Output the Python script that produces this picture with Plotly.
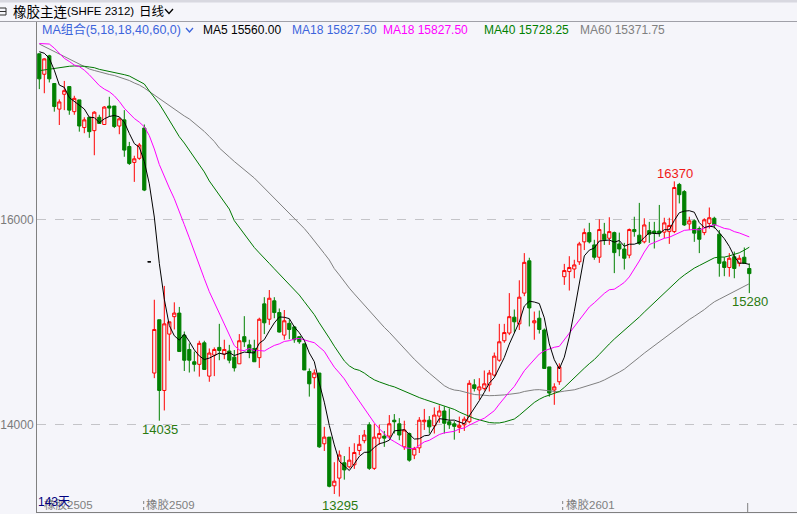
import plotly.graph_objects as go

# ---------------- data ----------------
opens = [17615, 17415, 17595, 17325, 17075, 17220, 17295, 17050, 17165, 16895,
         16995, 16865, 16995, 16925, 17105, 17105, 16910, 16970, 16710, 16555,
         16595, 16890, 15585, 14500, 15020, 14330, 14880, 15050, 15085, 14870,
         14730, 14610, 14585, 14795, 14470, 14675, 14750, 14685, 14715, 14655,
         14590, 14855, 14775, 14740, 14650, 15175, 15025, 15205, 15090, 14870,
         14985, 14950, 14855, 14785, 14515, 14455, 14500, 13810, 13875, 13400,
         13475, 13625, 13585, 13605, 13745, 13840, 13995, 13570, 13865, 13885,
         13885, 14040, 14005, 13780, 13910, 13700, 13770, 14025, 14040, 13985,
         14080, 14130, 14025, 14005, 13970, 13995, 14025, 14385, 14335, 14350,
         14385, 14480, 14625, 14815, 14890, 15045, 14980, 15280, 15595, 14990,
         15035, 14920, 14560, 14335, 14415, 15440, 15490, 15515, 15585, 15780,
         15870, 15750, 15630, 15855, 15815, 15870, 15760, 15710, 15650, 15900,
         15845, 15780, 15890, 15885, 15885, 15875, 15880, 15880, 16340, 16270,
         15955, 15985, 15910, 15870, 15960, 16010, 15855, 15585, 15530, 15635,
         15570, 15630, 15520]
highs = [17615, 17570, 17605, 17325, 17170, 17350, 17295, 17205, 17165, 16995,
         16995, 17055, 17020, 17105, 17195, 17105, 16995, 17065, 16755, 16620,
         16745, 16925, 15585, 15215, 15020, 15350, 15000, 15190, 15145, 14905,
         14790, 14710, 14815, 14815, 14740, 14750, 14980, 14825, 14775, 14725,
         14880, 15055, 14825, 14825, 15040, 15240, 15310, 15240, 15130, 15115,
         15025, 14960, 14855, 14785, 14545, 14535, 14500, 13975, 13875, 13630,
         13745, 13690, 13780, 13815, 13895, 13945, 14020, 14005, 13995, 13935,
         14090, 14100, 14060, 14035, 13920, 13780, 14070, 14150, 14080, 14165,
         14185, 14175, 14155, 14030, 14075, 14075, 14430, 14440, 14450, 14525,
         14530, 14700, 14980, 14980, 15280, 15120, 15405, 15670, 15625, 15100,
         15110, 14935, 14560, 14400, 14595, 15565, 15640, 15605, 15780, 15910,
         15965, 15800, 16000, 15965, 16020, 15880, 15870, 15770, 15910, 16025,
         16160, 16010, 15975, 15975, 16140, 16015, 16015, 16370, 16355, 16285,
         16025, 16000, 15930, 16010, 16115, 16025, 15895, 15630, 15670, 15685,
         15650, 15725, 15570]
lows = [17270, 17230, 17335, 17050, 16920, 17065, 17020, 17020, 16855, 16840,
        16795, 16625, 16935, 16925, 17000, 16890, 16830, 16610, 16530, 16365,
        16580, 16275, 15585, 14450, 14035, 14135, 14620, 14925, 14710, 14520,
        14505, 14515, 14465, 14530, 14415, 14470, 14625, 14635, 14595, 14515,
        14590, 14755, 14645, 14610, 14550, 14880, 14970, 15035, 14895, 14825,
        14830, 14795, 14785, 14530, 14270, 14350, 13770, 13740, 13385, 13320,
        13295, 13460, 13570, 13565, 13700, 13815, 13555, 13555, 13800, 13780,
        13865, 13910, 13845, 13750, 13635, 13660, 13720, 13945, 13910, 13910,
        14015, 13910, 13955, 13850, 13915, 13935, 14010, 14320, 14240, 14330,
        14320, 14465, 14610, 14795, 14870, 14895, 14920, 15250, 14955, 14825,
        14885, 14545, 14270, 14190, 14385, 15360, 15305, 15425, 15555, 15700,
        15765, 15605, 15575, 15750, 15750, 15475, 15640, 15510, 15620, 15830,
        15750, 15765, 15770, 15715, 15830, 15815, 15760, 15865, 16155, 15935,
        15895, 15780, 15670, 15845, 15910, 15910, 15440, 15445, 15440, 15425,
        15540, 15570, 15280]
closes = [17370, 17565, 17370, 17100, 17145, 17255, 17065, 17180, 16910, 16970,
          16855, 17045, 16935, 17095, 17085, 16905, 16980, 16675, 16545, 16590,
          16725, 16285, 15585, 14925, 14330, 14980, 15000, 15085, 14710, 14625,
          14625, 14585, 14790, 14535, 14695, 14730, 14720, 14730, 14625, 14550,
          14815, 14805, 14700, 14610, 15025, 14990, 15230, 15090, 14900, 15010,
          14925, 14825, 14805, 14530, 14395, 14500, 13780, 13875, 13395, 13445,
          13700, 13555, 13650, 13725, 13805, 13895, 13570, 13875, 13910, 13865,
          14005, 14025, 13895, 13945, 13650, 13765, 14040, 14040, 13975, 14090,
          14130, 14010, 13995, 13980, 13990, 14050, 14400, 14350, 14365, 14395,
          14500, 14665, 14805, 14895, 15050, 15000, 15240, 15580, 15135, 15010,
          14925, 14545, 14305, 14365, 14560, 15500, 15530, 15555, 15760, 15870,
          15780, 15630, 15900, 15800, 15880, 15675, 15710, 15620, 15900, 15880,
          15765, 15945, 15855, 15865, 15865, 15965, 15940, 16310, 16240, 15945,
          15985, 15865, 15805, 15995, 16015, 15945, 15570, 15530, 15620, 15520,
          15620, 15570, 15470]

# moving-average values of the first candles (their windows reach before the chart)
ma5_head = [17635, 17620, 17570, 17455]
ma18_head = [17715, 17715, 17710, 17670, 17620, 17570, 17540, 17505, 17490, 17455,
             17410, 17360, 17305, 17270, 17245, 17205, 17150]
ma40_head = [17450, 17457, 17466, 17476, 17483, 17489, 17493, 17496, 17498, 17493,
             17486, 17479, 17463, 17454, 17444, 17434, 17424, 17411, 17398, 17374,
             17342, 17320, 17252, 17193, 17125, 17047, 16969, 16891, 16806, 16744,
             16676, 16608, 16540, 16462, 16374, 16305, 16237, 16179, 16100]
ma60_head = [17710, 17686, 17666, 17642, 17618, 17593, 17569, 17544, 17515, 17491,
             17466, 17452, 17437, 17427, 17413, 17403, 17388, 17374, 17354, 17330,
             17310, 17281, 17247, 17213, 17174, 17140, 17105, 17076, 17042, 17008,
             16979, 16940, 16901, 16857, 16808, 16759, 16696, 16647, 16608, 16564,
             16525, 16486, 16447, 16403, 16354, 16305, 16252, 16203, 16154, 16105,
             16062, 16013, 15964, 15910, 15852, 15793, 15730, 15666, 15603]

ytick_vals = [14000, 16000]
legend_items = [("MA5 15560.00", "#000000"), ("MA18 15827.50", "#3C64DC"),
                ("MA18 15827.50", "#FF00FF"), ("MA40 15728.25", "#008000"),
                ("MA60 15371.75", "#808080")]
contracts = ["橡胶2505", "橡胶2509", "橡胶2601"]
peak_labels = [("16370", 127, 16370), ("15280", 142, 15280), ("14035", 24, 14035), ("13295", 60, 13295)]

# ---------------- layout constants ----------------
W, H = 797, 514
ML, MR, MT, MB = 37, 0, 22, 2
PW, PH = W - ML - MR, H - MT - MB
BG = "#F5F5FA"
RED = "#FF0000"
GREEN = "#008000"
FONT = "Tahoma, 'Liberation Sans', Arial, 'Noto Sans CJK SC', sans-serif"
CJK = "'Noto Sans CJK SC', 'Liberation Sans', sans-serif"

def px(x):
    return (x - ML) / PW

def py(y):
    return (H - MB - y) / PH

def ma(window, head):
    out = list(head)
    for i in range(len(head), len(closes)):
        seg = closes[i - window + 1:i + 1]
        out.append(sum(seg) / window)
    return out

idx = list(range(len(closes)))
flat = [i for i in idx if opens[i] == closes[i] == highs[i] == lows[i]]
norm = [i for i in idx if i not in flat]

fig = go.Figure()
fig.add_trace(go.Candlestick(
    x=norm, open=[opens[i] for i in norm], high=[highs[i] for i in norm],
    low=[lows[i] for i in norm], close=[closes[i] for i in norm],
    increasing=dict(line=dict(color=RED, width=1), fillcolor=BG),
    decreasing=dict(line=dict(color=GREEN, width=1), fillcolor=GREEN),
    whiskerwidth=0, hoverinfo="skip"))
if flat:
    fig.add_trace(go.Candlestick(
        x=flat, open=[opens[i] for i in flat], high=[highs[i] for i in flat],
        low=[lows[i] for i in flat], close=[closes[i] for i in flat],
        increasing=dict(line=dict(color="#000000", width=1), fillcolor="#000000"),
        decreasing=dict(line=dict(color="#000000", width=1), fillcolor="#000000"),
        whiskerwidth=0, hoverinfo="skip"))

for vals, col in [(ma(60, ma60_head), "#808080"), (ma(40, ma40_head), "#007800"),
                  (ma(18, ma18_head), "#FF00FF"), (ma(5, ma5_head), "#000000")]:
    fig.add_trace(go.Scatter(x=idx, y=vals, mode="lines",
                             line=dict(color=col, width=1), hoverinfo="skip"))

# axis ranges so that candle i sits at pixel 39.3 + 5*i and 14000/16000 at y 424.3/219.3
ppu = 205.0 / 2000.0
y_top = 16000 + (219.3 - MT) / ppu
y_bot = 16000 - (H - MB - 219.3) / ppu
x_left = (ML - 39.3) / 5.0
x_right = (W - MR - 39.3) / 5.0

ann = []
def text(s, x, y, color, size=12, anchor="left", family=FONT):
    ann.append(dict(text=s, x=px(x), y=py(y), xref="paper", yref="paper",
                    xanchor=anchor, yanchor="middle", showarrow=False,
                    borderpad=0, font=dict(family=family, size=size, color=color)))

# header
text("橡胶主连", 12, 11, "#000000", 13.5, family=CJK)
text("(SHFE 2312)", 66, 11, "#000000", 11.5, family="'Liberation Sans', Arial, sans-serif")
text("日线", 138, 11, "#000000", 12.5, family=CJK)
# legend row
text("MA组合(5,18,18,40,60,0)", 41, 30, "#3C64DC", 12.5)
leg_x = [202, 291, 382, 483, 579]
for (s, c), xx in zip(legend_items, leg_x):
    text(s, xx, 30, c, 12)
# peak / trough labels
label_pos = {"16370": (675, 173, "#F01818"), "15280": (750, 301, "#2A7A10"),
             "14035": (160, 429, "#2A7A10"), "13295": (340, 505, "#2A7A10")}
for s, i, v in peak_labels:
    xx, yy, c = label_pos[s]
    text(s, xx, yy, c, 13, anchor="center")
# contract labels
for s, xx in zip(contracts, [43, 145, 565]):
    text(s, xx, 504.5, "#808080", 11.5, family="'Liberation Sans', 'Noto Sans CJK SC', sans-serif")
text("143天", 37, 502, "#000080", 12, family="'Liberation Sans', 'Noto Sans CJK SC', sans-serif")

shapes = [
    dict(type="rect", xref="paper", yref="paper", x0=px(0), x1=px(W), y0=py(2.5), y1=py(0),
         fillcolor="#D8D8E0", line=dict(width=0), layer="above"),
    dict(type="line", xref="paper", yref="paper", x0=px(0), x1=px(W), y0=py(21.5), y1=py(21.5),
         line=dict(color="#A0A0A8", width=1)),
    dict(type="rect", xref="paper", yref="paper", x0=px(-3), x1=px(6), y0=py(15), y1=py(8),
         line=dict(color="#303030", width=1)),
    dict(type="line", xref="paper", yref="paper", x0=px(-3), x1=px(6), y0=py(11.5), y1=py(11.5),
         line=dict(color="#303030", width=1)),
    dict(type="path", xref="paper", yref="paper",
         path="M %f,%f L %f,%f L %f,%f" % (px(165), py(9), px(169), py(13.5), px(173), py(9)),
         line=dict(color="#000000", width=1.3)),
    dict(type="path", xref="paper", yref="paper",
         path="M %f,%f L %f,%f L %f,%f" % (px(186), py(28), px(189.5), py(32), px(193), py(28)),
         line=dict(color="#3C64DC", width=1.3)),
    dict(type="line", xref="paper", yref="paper", x0=px(143.7), x1=px(143.7), y0=py(501), y1=py(511),
         line=dict(color="#808080", width=1, dash="dot")),
    dict(type="line", xref="paper", yref="paper", x0=px(562.7), x1=px(562.7), y0=py(501), y1=py(511),
         line=dict(color="#808080", width=1, dash="dot")),
    dict(type="line", xref="paper", yref="paper", x0=px(747.7), x1=px(747.7), y0=py(503), y1=py(512),
         line=dict(color="#808080", width=1)),
]

fig.update_layout(
    width=W, height=H, margin=dict(l=ML, r=MR, t=MT, b=MB, pad=0),
    paper_bgcolor=BG, plot_bgcolor=BG, showlegend=False,
    boxgap=0.2, boxgroupgap=0.2,
    annotations=ann, shapes=shapes,
    xaxis=dict(range=[x_left, x_right], showgrid=False, zeroline=False,
               showticklabels=False, ticks="", showline=True, linecolor="#808080",
               linewidth=1, rangeslider=dict(visible=False), fixedrange=True),
    yaxis=dict(range=[y_bot, y_top], tickvals=ytick_vals, ticktext=[str(v) for v in ytick_vals],
               showgrid=True, gridcolor="#C4C4C8", griddash="dash", gridwidth=1,
               zeroline=False, ticks="", showline=True, linecolor="#808080", linewidth=1,
               tickfont=dict(family=FONT, size=12, color="#7A7A7A"), fixedrange=True),
)

fig.write_html("out.html", config={"displayModeBar": False},
               post_script="document.body.style.margin='0';document.body.style.background='%s';" % BG)
